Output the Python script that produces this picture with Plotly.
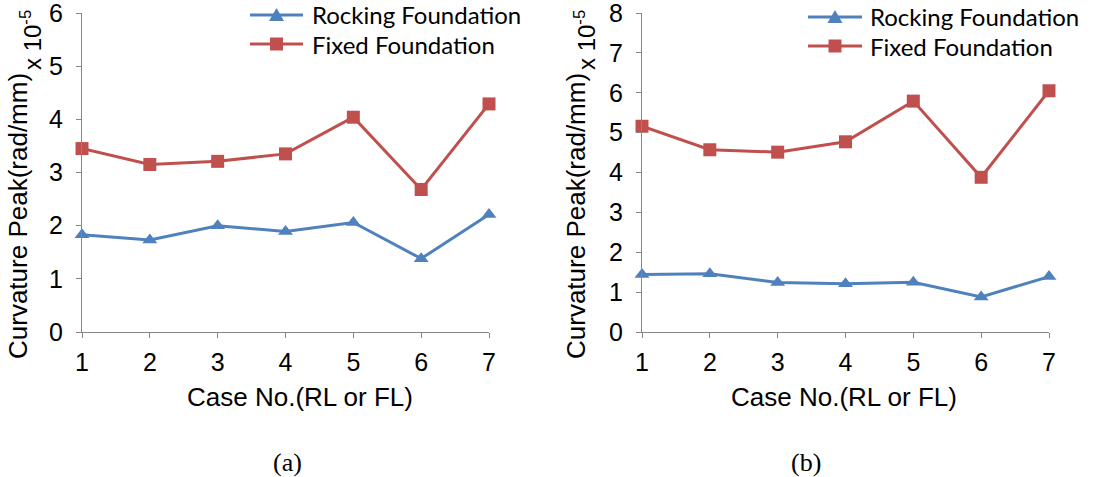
import plotly.graph_objects as go

# Case numbers shared by both panels
cases = [1, 2, 3, 4, 5, 6, 7]
case_ticks = ["1", "2", "3", "4", "5", "6", "7"]

# Panel (a): curvature peaks, x 10^-5 rad/mm
rocking_a = [1.83, 1.73, 2.00, 1.89, 2.06, 1.38, 2.21]
fixed_a = [3.45, 3.15, 3.21, 3.35, 4.04, 2.68, 4.29]

# Panel (b): curvature peaks, x 10^-5 rad/mm
rocking_b = [1.44, 1.46, 1.24, 1.21, 1.25, 0.88, 1.39]
fixed_b = [5.16, 4.57, 4.51, 4.77, 5.79, 3.88, 6.05]

series_names = ["Rocking Foundation", "Fixed Foundation"]
panel_labels = ["(a)", "(b)"]
x_title = "Case No.(RL or FL)"
y_title = "Curvature Peak(rad/mm)"
multiplier = "x 10<sup>-5</sup>"

W, H = 1097, 477
BLUE = "#4F81BD"
RED = "#C0504D"
AXIS_GREY = "#868686"
SANS = "Liberation Sans, Arial, sans-serif"
LEGEND_FONT = "Lato, Carlito, Calibri, sans-serif"
SERIF = "Liberation Serif, Times New Roman, serif"


def px(x):
    return x / W


def py(y):
    return 1 - y / H


fig = go.Figure()

panels = [(rocking_a, fixed_a, "x", "y"), (rocking_b, fixed_b, "x2", "y2")]
for rock, fixed, xa, ya in panels:
    fig.add_trace(go.Scatter(
        x=cases, y=rock, name=series_names[0], mode="lines+markers",
        xaxis=xa, yaxis=ya, cliponaxis=False, showlegend=False,
        line=dict(color=BLUE, width=3),
        marker=dict(symbol="triangle-up", size=13, color=BLUE),
    ))
    fig.add_trace(go.Scatter(
        x=cases, y=fixed, name=series_names[1], mode="lines+markers",
        xaxis=xa, yaxis=ya, cliponaxis=False, showlegend=False,
        line=dict(color=RED, width=3),
        marker=dict(symbol="square", size=13, color=RED),
    ))

axis_common = dict(
    showline=True, linecolor=AXIS_GREY, linewidth=1.3,
    ticks="outside", ticklen=5, tickcolor=AXIS_GREY, tickwidth=1.3,
    showgrid=False, zeroline=False, automargin=False,
    ticklabeloverflow="allow",
    tickfont=dict(family=SANS, size=25, color="black"),
)
y_domain = [py(332), py(13)]

fig.update_layout(
    template="none",
    width=W, height=H,
    margin=dict(l=0, r=0, t=0, b=0, autoexpand=False),
    paper_bgcolor="white", plot_bgcolor="white",
    showlegend=False,
    xaxis=dict(domain=[px(82), px(489)], range=[1, 7], tickvals=cases,
               ticktext=case_ticks, anchor="y", ticklabelstandoff=3,
               **axis_common),
    yaxis=dict(domain=y_domain, range=[0, 6], dtick=1, anchor="x",
               ticklabelstandoff=8, **axis_common),
    xaxis2=dict(domain=[px(642), px(1049)], range=[1, 7], tickvals=cases,
                ticktext=case_ticks, anchor="y2", ticklabelstandoff=3,
                **axis_common),
    yaxis2=dict(domain=y_domain, range=[0, 8], dtick=1, anchor="x2",
                ticklabelstandoff=8, **axis_common),
)

annotations = []
shapes = []

# axis titles, multipliers and panel captions
for title_x, mult_x, xt_x, lab_x, lab in [
    (18, 31, 300, 287, panel_labels[0]),
    (576, 585, 844, 806, panel_labels[1]),
]:
    annotations.append(dict(
        text=y_title, x=px(title_x), y=py(216), xref="paper", yref="paper",
        textangle=-90, showarrow=False, xanchor="center", yanchor="middle",
        font=dict(family=SANS, size=26, color="black"),
    ))
    annotations.append(dict(
        text=multiplier, x=px(mult_x), y=py(40), xref="paper", yref="paper",
        textangle=-90, showarrow=False, xanchor="center", yanchor="middle",
        font=dict(family=SANS, size=24, color="black"),
    ))
    annotations.append(dict(
        text=x_title, x=px(xt_x), y=py(397), xref="paper", yref="paper",
        showarrow=False, xanchor="center", yanchor="middle",
        font=dict(family=SANS, size=26, color="black"),
    ))
    annotations.append(dict(
        text=lab, x=px(lab_x), y=py(462), xref="paper", yref="paper",
        showarrow=False, xanchor="center", yanchor="middle",
        font=dict(family=SERIF, size=26, color="black"),
    ))

# legend block for each panel: key line, key marker and series name
legend_boxes = [
    dict(x0=250, x1=303, rows=(15, 44), text_x=310),
    dict(x0=808, x1=862, rows=(17, 46), text_x=868),
]
for box in legend_boxes:
    cx = (box["x0"] + box["x1"]) / 2
    for (name, color, kind), ry in zip(
        [(series_names[0], BLUE, "tri"), (series_names[1], RED, "sq")],
        box["rows"],
    ):
        shapes.append(dict(
            type="line", xref="paper", yref="paper",
            x0=px(box["x0"]), x1=px(box["x1"]), y0=py(ry), y1=py(ry),
            line=dict(color=color, width=3),
        ))
        if kind == "tri":
            path = "M{:.5f},{:.5f} L{:.5f},{:.5f} L{:.5f},{:.5f} Z".format(
                px(cx - 7.5), py(ry + 6), px(cx + 7.5), py(ry + 6),
                px(cx), py(ry - 7))
            shapes.append(dict(type="path", xref="paper", yref="paper",
                               path=path, fillcolor=color,
                               line=dict(width=0)))
        else:
            shapes.append(dict(
                type="rect", xref="paper", yref="paper",
                x0=px(cx - 6.5), x1=px(cx + 6.5),
                y0=py(ry + 6.5), y1=py(ry - 6.5),
                fillcolor=color, line=dict(width=0),
            ))
        annotations.append(dict(
            text=name, x=px(box["text_x"]), y=py(ry), xref="paper",
            yref="paper", showarrow=False, xanchor="left", yanchor="middle",
            font=dict(family=LEGEND_FONT, size=24, color="black"),
        ))

fig.update_layout(annotations=annotations, shapes=shapes)

fig.write_html("out.html")
